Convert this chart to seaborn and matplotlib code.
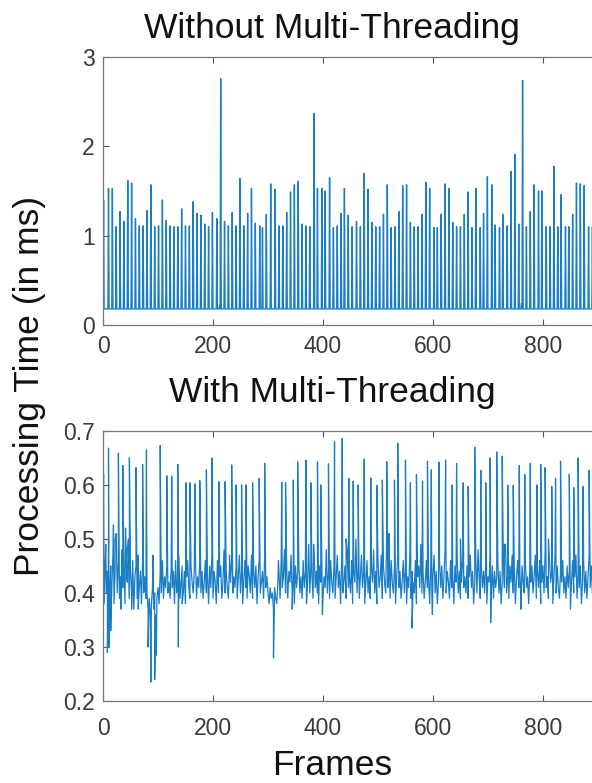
import numpy as np
import pandas as pd
import matplotlib
matplotlib.use("Agg")
import matplotlib.pyplot as plt
import seaborn as sns

# Frames axis
n_frames = 901

# --- Without multi-threading (ms) ---
top_base = 0.18
top_bump_frames = [212, 761]
top_bump_vals = [0.22, 0.24]
top_spike_frames = [
    1, 10, 17, 24, 31, 38, 45, 52, 59, 66, 73, 80, 87, 94, 101, 108, 115, 122, 129, 136,
    143, 150, 157, 164, 171, 178, 185, 192, 199, 207, 214, 221, 228, 235, 242, 249, 256, 263, 270, 277,
    285, 290, 297,
    305, 313, 320, 327, 334, 341, 348, 355, 362, 369, 376, 384, 390, 398, 404, 412, 419, 426, 433, 439,
    446, 453, 461, 468, 475, 482, 489, 496, 503, 510, 517, 524, 531, 538, 545, 552, 559, 566, 573, 580,
    587, 594, 602,
    608, 615, 622, 629, 636, 643, 650, 657, 664, 671, 678, 686, 692, 699, 707, 713, 721, 727, 735, 742,
    749, 756, 763, 770, 777, 784, 792, 798, 806, 813, 820, 827, 833, 841, 847, 854, 861, 868, 875, 883,
    890, 897,
]
top_spike_vals = [
    1.40, 1.53, 1.53, 1.10, 1.27, 1.16, 1.62, 1.59, 1.19, 1.11, 1.11, 1.28, 1.57, 1.10, 1.11, 1.40, 1.17, 1.11, 1.10, 1.10,
    1.30, 1.11, 1.11, 1.38, 1.25, 1.23, 1.13, 1.10, 1.26, 1.19, 2.76, 1.16, 1.11, 1.26, 1.11, 1.64, 1.11, 1.25, 1.53, 1.14,
    1.11, 1.09, 1.24,
    1.58, 1.52, 1.11, 1.11, 1.26, 1.49, 1.57, 1.61, 1.13, 1.11, 1.10, 2.37, 1.53, 1.53, 1.50, 1.65, 1.09, 1.11, 1.25, 1.53,
    1.23, 1.10, 1.16, 1.10, 1.70, 1.52, 1.15, 1.10, 1.10, 1.24, 1.57, 1.09, 1.10, 1.27, 1.56, 1.57, 1.15, 1.10, 1.10, 1.24,
    1.60, 1.53, 1.09,
    1.09, 1.24, 1.58, 1.53, 1.15, 1.10, 1.10, 1.24, 1.49, 1.09, 1.53, 1.09, 1.25, 1.66, 1.57, 1.12, 1.09, 1.24, 1.11, 1.72,
    1.91, 1.13, 2.74, 1.10, 1.27, 1.57, 1.50, 1.50, 1.10, 1.10, 1.78, 1.10, 1.46, 1.10, 1.10, 1.24, 1.59, 1.58, 1.56, 1.10,
    1.10, 1.25,
]

# --- With multi-threading (ms) ---
# background level read every 2 frames, one row = 60 frames
bot_base_step = 2
bot_base_vals = [
    .42, .38, .46, .40, .44, .49, .39, .45, .41, .47, .38, .44, .51, .40, .46, .39, .43, .48, .41, .45, .38, .47, .42, .50, .39, .44, .40, .46, .37, .43,
    .45, .39, .47, .41, .44, .38, .46, .40, .43, .39, .40, .37, .39, .36, .38, .41, .37, .40, .36, .39, .41, .38, .44, .40, .46, .39, .43, .41, .45, .40,
    .42, .39, .45, .41, .44, .38, .46, .40, .43, .47, .39, .42, .45, .40, .44, .38, .43, .46, .41, .39, .45, .42, .40, .44, .47, .39, .43, .41, .46, .40,
    .44, .39, .42, .46, .40, .43, .38, .45, .41, .47, .39, .44, .42, .38, .46, .40, .43, .45, .39, .42, .48, .40, .44, .41, .39, .45, .42, .46, .40, .43,
    .41, .45, .39, .43, .47, .40, .44, .38, .42, .46, .41, .39, .45, .43, .40, .47, .39, .44, .41, .45, .38, .43, .46, .40, .42, .44, .39, .47, .41, .43,
    .40, .38, .41, .39, .40, .37, .41, .39, .38, .42, .44, .39, .46, .41, .43, .48, .40, .45, .39, .44, .42, .47, .40, .43, .38, .45, .41, .44, .46, .40,
    .43, .39, .46, .41, .44, .38, .42, .49, .40, .45, .43, .39, .47, .41, .44, .40, .38, .45, .42, .46, .39, .43, .41, .48, .40, .44, .39, .46, .42, .40,
    .45, .39, .43, .47, .41, .44, .38, .46, .40, .42, .45, .39, .48, .41, .43, .40, .46, .38, .44, .42, .50, .40, .45, .39, .43, .47, .41, .44, .38, .42,
    .46, .40, .43, .39, .45, .42, .48, .40, .44, .38, .46, .41, .43, .47, .39, .45, .42, .40, .51, .41, .44, .39, .46, .42, .40, .45, .38, .43, .47, .41,
    .44, .39, .42, .46, .40, .45, .38, .43, .41, .47, .39, .44, .42, .40, .46, .38, .43, .45, .41, .49, .40, .44, .39, .42, .46, .41, .43, .38, .45, .40,
    .43, .47, .40, .44, .38, .42, .46, .41, .45, .39, .43, .48, .40, .44, .42, .39, .46, .41, .43, .38, .45, .42, .47, .40, .44, .39, .42, .46, .41, .43,
    .40, .45, .39, .43, .47, .41, .44, .38, .42, .46, .40, .48, .43, .39, .45, .41, .44, .40, .46, .38, .43, .42, .47, .40, .45, .39, .44, .41, .43, .46,
    .40, .44, .38, .42, .46, .41, .49, .40, .43, .39, .45, .42, .47, .40, .44, .38, .43, .46, .41, .44, .39, .45, .42, .40, .46, .41, .43, .38, .44, .42,
    .45, .40, .43, .47, .39, .44, .41, .46, .38, .42, .45, .40, .48, .41, .43, .39, .46, .42, .44, .38, .43, .47, .40, .45, .41, .39, .44, .42, .46, .40,
    .43, .39, .45, .41, .44, .38, .42, .46, .40, .43, .47, .39, .44, .41, .45, .38, .42, .46, .40, .44, .39, .43, .47, .41, .45, .40, .42, .38, .44, .41,
    .42,
]
bot_spike_frames = [
    1, 10, 19, 28, 36, 48, 60, 72, 79, 104, 116, 125, 136, 151, 158, 167, 176, 188, 198, 211,
    222, 234, 242, 252, 260, 272, 284, 294,
    325, 332, 346, 354, 369, 378, 390, 396, 410, 421, 435, 447, 455, 464, 475, 487, 498, 508,
    516, 530, 536, 550, 559, 570, 581, 590, 597,
    611, 623, 635, 643, 655, 664, 676, 687, 696, 704, 716, 726, 736, 746, 757, 767, 777, 789,
    796, 804, 816, 823, 832, 848, 856, 864, 873, 884,
]
bot_spike_vals = [
    .620, .668, .526, .659, .636, .650, .632, .638, .665, .673, .617, .616, .638, .604, .604, .602, .608, .628, .650, .606,
    .606, .637, .600, .600, .600, .604, .612, .640,
    .605, .604, .609, .643, .646, .604, .643, .600, .639, .680, .686, .612, .607, .600, .648, .613, .599, .609,
    .643, .609, .677, .646, .604, .619, .607, .644, .628,
    .642, .646, .600, .640, .604, .597, .670, .627, .604, .650, .661, .653, .600, .599, .636, .619, .640, .600,
    .638, .632, .597, .612, .644, .620, .595, .650, .597, .627,
]
# smaller bumps and dips
bot_minor_frames = [5, 8, 11, 14, 22, 33, 41, 44, 52, 64, 82, 87, 91, 94, 97, 137, 144, 230,
                    310, 319, 344, 383, 399, 442, 520, 562, 599, 650, 705, 730, 760, 810, 850]
bot_minor_vals = [.49, .29, .30, .33, .50, .37, .52, .48, .37, .37, .30, .235, .47, .24, .285, .30, .38, .47,
                  .28, .46, .37, .49, .36, .50, .51, .335, .36, .50, .345, .49, .37, .50, .37]

x_ticks = [0, 200, 400, 600, 800]
top_yticks = [0, 1, 2, 3]
bot_yticks = [0.2, 0.3, 0.4, 0.5, 0.6, 0.7]

# build the series
top_y = np.full(n_frames, top_base)
top_y[top_bump_frames] = top_bump_vals
top_y[top_spike_frames] = top_spike_vals
df_top = pd.DataFrame({"frame": np.arange(n_frames), "time": top_y})

base_frames = np.arange(len(bot_base_vals)) * bot_base_step
df_bot = pd.DataFrame({
    "frame": np.concatenate([base_frames, bot_spike_frames, bot_minor_frames]),
    "time": np.concatenate([bot_base_vals, bot_spike_vals, bot_minor_vals]),
}).sort_values("frame", kind="stable")

sns.set_theme(style="white")
plt.rcParams["font.family"] = ["Liberation Sans", "DejaVu Sans"]

fig = plt.figure(figsize=(5.92, 7.83), dpi=100)
ax1 = fig.add_axes([0.174, 0.585, 0.836, 0.342])
ax2 = fig.add_axes([0.174, 0.1047, 0.836, 0.345])

line_color = "#1a7ec6"
sns.lineplot(data=df_top, x="frame", y="time", ax=ax1, color=line_color,
             linewidth=1.0, estimator=None, sort=False)
sns.lineplot(data=df_bot, x="frame", y="time", ax=ax2, color=line_color,
             linewidth=0.9, estimator=None, sort=False)

ax1.set_ylim(0, 3)
ax1.set_yticks(top_yticks)
ax2.set_ylim(0.2, 0.7)
ax2.set_yticks(bot_yticks)

for ax, xpad in [(ax1, 7), (ax2, 11.5)]:
    ax.set_xlim(0, 900)
    ax.set_xticks(x_ticks)
    ax.set_xlabel("")
    ax.set_ylabel("")
    ax.tick_params(axis="both", direction="in", length=4, width=0.8, color="#555555",
                   labelsize=16.5, labelcolor="#3a3a3a", top=True, right=False, left=True, bottom=True)
    ax.tick_params(axis="x", pad=xpad)
    ax.tick_params(axis="y", pad=6)
    for side in ["left", "bottom", "top", "right"]:
        ax.spines[side].set_color("#777777")
        ax.spines[side].set_linewidth(0.9)
    ax.yaxis.set_major_formatter(matplotlib.ticker.FormatStrFormatter("%g"))

# titles and labels
fig.text(0.561, 1 - 38 / 783, "Without Multi-Threading", ha="center", va="baseline",
         fontsize=25.5, color="#111111")
fig.text(0.561, 1 - 402 / 783, "With Multi-Threading", ha="center", va="baseline",
         fontsize=25.5, color="#111111")
fig.text(0.561, 1 - 775 / 783, "Frames", ha="center", va="baseline",
         fontsize=25.5, color="#111111")
fig.text(30 / 592, 1 - 386 / 783, "Processing Time (in ms)", ha="center", va="center",
         rotation=90, fontsize=25.5, color="#111111")

fig.savefig("out.png", dpi=100)
